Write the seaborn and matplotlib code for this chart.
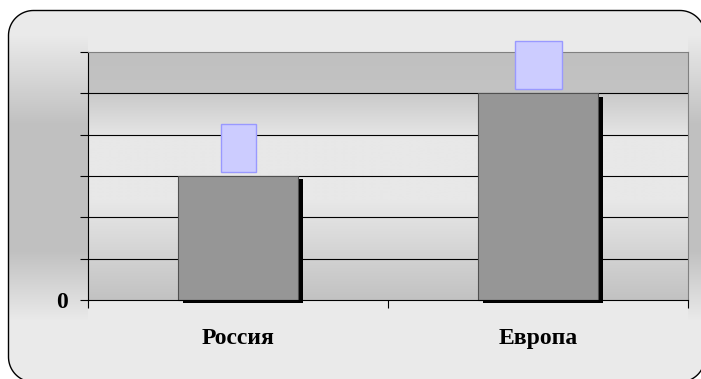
import numpy as np
import pandas as pd
import matplotlib
matplotlib.use("Agg")
import matplotlib.pyplot as plt
import seaborn as sns
from matplotlib.patches import Polygon, Rectangle
from matplotlib import patheffects as pe

# ---- data ----
regions = ["Россия", "Европа"]
values = [3, 5]
y_ticks = [0, 1, 2, 3, 4, 5, 6]
y_tick_labels = ["0", "", "", "", "", "", ""]

df = pd.DataFrame({"region": regions, "value": values})

W, H = 701, 379
fig = plt.figure(figsize=(W / 100, H / 100), dpi=100)
fig.patch.set_facecolor("white")


def rounded_outline(x0, y0, x1, y1, r, n=24):
    """Vertices of a rounded rectangle (pixel units, y up)."""
    pts = []
    corners = [(x1 - r, y1 - r, 0), (x0 + r, y1 - r, 90),
               (x0 + r, y0 + r, 180), (x1 - r, y0 + r, 270)]
    for cx, cy, a0 in corners:
        t = np.radians(np.linspace(a0, a0 + 90, n))
        pts.extend(zip(cx + r * np.cos(t), cy + r * np.sin(t)))
    return np.array(pts)


# ---- chart-area backdrop with shaded side strips and rounded frame ----
bg = fig.add_axes([0, 0, 1, 1], zorder=0)
bg.set_xlim(0, W)
bg.set_ylim(0, H)
bg.axis("off")
rows = np.arange(H)  # counted from the top edge
side = np.interp(rows, [0, 35, 125, 250, 320, H],
                 [0xEA, 0xEA, 0xC0, 0xC0, 0xEA, 0xEA]) / 255
shade = np.full((H, W), 0xEA / 255)
shade[:, :88] = side[:, None]
shade[:, 688:] = side[:, None]
rgb = np.dstack([shade] * 3)
im = bg.imshow(rgb, extent=(0, W, 0, H), origin="upper",
               interpolation="bilinear", aspect="auto")
# frame spans x=8..705 and 10..382 px from the top (partly off the canvas)
frame = Polygon(rounded_outline(8.5, H - 382, 705, H - 10.5, 25), closed=True,
                facecolor="none", edgecolor="black", lw=1.0, clip_on=False)
bg.add_patch(frame)
im.set_clip_path(frame)

# ---- plot area ----
ax = fig.add_axes([88 / W, (H - 300) / H, 600 / W, 248 / H], zorder=1)
ax.patch.set_alpha(0)

prow = np.arange(52, 301)
pshade = np.interp(prow, [52, 93, 94, 140, 200, 300],
                   [0xC0, 0xC3, 0xCA, 0xE8, 0xE8, 0xC2]) / 255
ax.imshow(np.dstack([pshade[:, None]] * 3), extent=(-0.5, 1.5, 0, 6),
          aspect="auto", interpolation="bilinear", zorder=0.1)

for lvl in y_ticks[1:-1]:
    ax.axhline(lvl, color="black", lw=0.8, zorder=1)

sns.barplot(data=df, x="region", y="value", color="#969696", saturation=1,
            width=0.4, edgecolor="#505050", linewidth=0.8, ax=ax, zorder=2)
for bar in ax.patches:
    bar.set_clip_on(False)
    bar.set_path_effects([
        pe.SimplePatchShadow(offset=(3.3, -2.5), shadow_rgbFace="black", alpha=1.0),
        pe.Normal(),
    ])

# label boxes above each bar
box_px_w = [35, 47]
px_per_cat = 300.0
px_per_unit = 248.0 / 6
for i, v in enumerate(values):
    w = box_px_w[i] / px_per_cat
    ax.add_patch(Rectangle((i - w / 2, v + 4 / px_per_unit), w, 48 / px_per_unit,
                           facecolor="#CCCCFF", edgecolor="#9999FF", lw=1.0,
                           zorder=4, clip_on=False))

ax.set_xlim(-0.5, 1.5)
ax.set_ylim(0, 6)
ax.set_xlabel("")
ax.set_ylabel("")

font = dict(family="Liberation Serif", weight="bold", size=17)
ax.set_yticks(y_ticks)
ax.set_yticklabels(y_tick_labels, fontdict=font)
ax.set_xticks([-0.5, 0.5, 1.5])
ax.set_xticklabels(["", "", ""])
ax.set_xticks([0, 1], minor=True)
ax.set_xticklabels(regions, minor=True, fontdict=font)
ax.tick_params(axis="x", which="major", length=5.8, width=0.8, color="black")
ax.tick_params(axis="x", which="minor", length=0, pad=20)
ax.tick_params(axis="y", length=5.8, width=0.8, color="black", pad=9)

for s in ["left", "bottom"]:
    ax.spines[s].set_color("black")
    ax.spines[s].set_linewidth(0.8)
for s in ["top", "right"]:
    ax.spines[s].set_color("#808080")
    ax.spines[s].set_linewidth(0.8)

fig.savefig("out.png", dpi=100)
